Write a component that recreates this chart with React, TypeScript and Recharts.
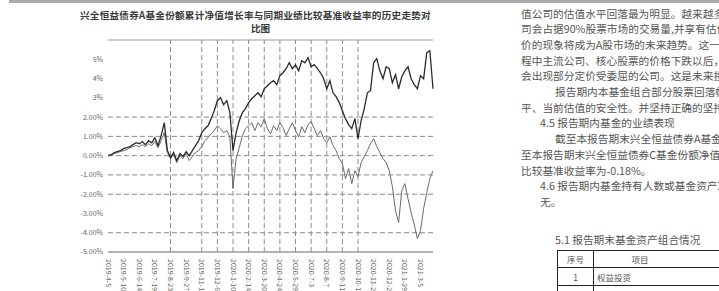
import React from "react";
import { LineChart, Line, XAxis, YAxis, ReferenceLine } from "recharts";

const dates = [
  "2019-4-5", "2019-4-12", "2019-4-19", "2019-4-26", "2019-5-3", "2019-5-10", "2019-5-17", "2019-5-24", "2019-5-31",
  "2019-6-7", "2019-6-14", "2019-6-21", "2019-6-28", "2019-7-5", "2019-7-12", "2019-7-19", "2019-7-26",
  "2019-8-2", "2019-8-9", "2019-8-16", "2019-8-23", "2019-8-30", "2019-9-6", "2019-9-13", "2019-9-20", "2019-9-27",
  "2019-10-4", "2019-10-11", "2019-10-18", "2019-10-25", "2019-11-1", "2019-11-8", "2019-11-15", "2019-11-22", "2019-11-29",
  "2019-12-6", "2019-12-13", "2019-12-20", "2019-12-27",
  "2020-1-3", "2020-1-10", "2020-1-17", "2020-1-24", "2020-1-31", "2020-2-7", "2020-2-14", "2020-2-21", "2020-2-28",
  "2020-3-6", "2020-3-13", "2020-3-20", "2020-3-27", "2020-4-3", "2020-4-10", "2020-4-17", "2020-4-24",
  "2020-5-1", "2020-5-8", "2020-5-15", "2020-5-22", "2020-5-29", "2020-6-5", "2020-6-12", "2020-6-19", "2020-6-26",
  "2020-7-3", "2020-7-10", "2020-7-17", "2020-7-24", "2020-7-31", "2020-8-7", "2020-8-14", "2020-8-21", "2020-8-28",
  "2020-9-4", "2020-9-11", "2020-9-18", "2020-9-25", "2020-10-2", "2020-10-9", "2020-10-16", "2020-10-23", "2020-10-30",
  "2020-11-6", "2020-11-13", "2020-11-20", "2020-11-27", "2020-12-4", "2020-12-11", "2020-12-18", "2020-12-25",
  "2021-1-1", "2021-1-8", "2021-1-15", "2021-1-22", "2021-1-29", "2021-2-5", "2021-2-12", "2021-2-19", "2021-2-26",
  "2021-3-5", "2021-3-12", "2021-3-19", "2021-3-26", "2021-3-31",
];

// 累计净值增长率 (%)
const fundReturn = [
  0, 0.05, 0.16, 0.21, 0.26, 0.36, 0.41, 0.47, 0.57, 0.67, 0.62, 0.73, 0.57, 0.78, 0.67, 0.93, 0.52, 1.04, 1.71, 0.26,
  -0.1, 0.16, -0.26, 0.1, -0.05, 0.21, 0, 0.26, 0.52, 0.78, 1.19, 1.4, 1.55, 1.92, 2.33, 2.85, 3.01, 2.64, 2.85, 2.23,
  0.26, 1.19, 1.81, 2.23, 2.44, 2.75, 2.95, 3.11, 3.26, 3.06, 3.47, 3.63, 3.78, 3.89, 3.68, 4.15, 4.3, 4.51, 4.82, 4.51,
  4.72, 4.4, 4.92, 4.82, 5.08, 4.61, 4.72, 4.51, 4.3, 3.99, 3.47, 3.89, 3.26, 3.06, 2.75, 2.33, 1.92, 1.61, 1.4, 1.92,
  0.88, 1.81, 2.44, 3.26, 3.37, 4.82, 5.03, 4.4, 3.99, 4.61, 4.51, 3.78, 4.2, 3.47, 4.09, 4.4, 4.61, 3.99, 3.68, 3.47,
  4.15, 3.99, 5.34, 5.44, 3.47,
];

// 业绩比较基准收益率 (%)
const benchmarkReturn = [
  0, 0, 0.1, 0.16, 0.21, 0.26, 0.31, 0.41, 0.47, 0.52, 0.47, 0.57, 0.47, 0.62, 0.52, 0.73, 0.41, 0.78, 1.19, 0.16,
  -0.16, 0.05, -0.36, 0, -0.16, 0.1, -0.26, -0.05, 0.16, 0.26, 0.47, 0.78, 0.93, 1.14, 1.3, 1.55, 1.4, 1.19, 1.3, 0.98,
  -1.71, -0.16, 0.41, 1.04, 1.4, 1.55, 1.71, 1.3, 1.71, 1.5, 1.92, 1.4, 1.14, 1.55, 1.3, 1.71, 1.45, 1.04, 1.4, 1.71,
  1.3, 0.98, 1.5, 1.19, 1.61, 1.76, 1.4, 1.04, 1.3, 0.88, 0.67, 0.98, 0.52, 0.26, -0.16, -0.41, -1.19, -0.67, -1.45, -0.78,
  -1.09, -0.36, -0.05, 0.26, 0.62, 0.88, 0.47, 0.16, -0.16, -0.36, -0.78, -1.61, -2.85, -3.47, -1.81, -1.45, -2.23, -2.95, -3.58, -4.3,
  -3.89, -2.75, -1.92, -1.19, -0.78,
];

const yTicks = [5, 4, 3, 2, 1, 0, -1, -2, -3, -4, -5];
const yTickLabels = ["5%", "4%", "3%", "2.00%", "1.00%", "0.00%", "-1.00%", "-2.00%", "-3.00%", "-4.00%", "-5.00%"];
const gridValues = [2, 1, 0, -1, -2, -4];
const gridDates = [
  "2019-8-23", "2019-11-1", "2019-12-6", "2020-1-10", "2020-2-14", "2020-3-20",
  "2020-4-24", "2020-5-29", "2020-7-3", "2020-8-7", "2020-9-11", "2020-10-16",
];

const titleLine1 = "兴全恒益债券A基金份额累计净值增长率与同期业绩比较基准收益率的历史走势对";
const titleLine2 = "比图";

const textLines: { text: string; indent: number }[] = [
  { text: "值公司的估值水平回落最为明显。越来越多的", indent: 0 },
  { text: "司会占据90%股票市场的交易量,并享有估值溢", indent: 0 },
  { text: "价的现象将成为A股市场的未来趋势。这一过", indent: 0 },
  { text: "程中主流公司、核心股票的价格下跌以后，也", indent: 0 },
  { text: "会出现部分定价受委屈的公司。这是未来投资", indent: 0 },
  { text: "报告期内本基金组合部分股票回落幅度", indent: 2 },
  { text: "平、当前估值的安全性。并坚持正确的坚持。", indent: 0 },
  { text: "4.5 报告期内基金的业绩表现", indent: 1 },
  { text: "截至本报告期末兴全恒益债券A基金份额", indent: 2 },
  { text: "至本报告期末兴全恒益债券C基金份额净值增长", indent: 0 },
  { text: "比较基准收益率为-0.18%。", indent: 0 },
  { text: "4.6 报告期内基金持有人数或基金资产净值", indent: 1 },
  { text: "无。", indent: 1 },
];

const data = dates.map((d, i) => ({ date: d, fund: fundReturn[i], bench: benchmarkReturn[i] }));

function DateTick(props: any) {
  const { x, y, payload } = props;
  return (
    <text
      x={x}
      y={y}
      dx={5}
      dy={2.5}
      transform={`rotate(90 ${x} ${y})`}
      fontSize={7}
      fill="#666"
      fontFamily="Noto Sans CJK SC"
    >
      {payload.value}
    </text>
  );
}

const cjk = "'Noto Sans CJK SC', sans-serif";

export default function App() {
  return (
    <div
      style={{
        position: "fixed",
        left: 0,
        top: 0,
        width: 719,
        height: 291,
        background: "#fff",
        overflow: "hidden",
        fontFamily: cjk,
      }}
    >
      <div style={{ position: "absolute", left: 9, top: 0, width: 710, height: 3, background: "#ababab" }} />

      <div
        style={{
          position: "absolute",
          left: 80,
          top: 10,
          fontSize: 9.6,
          letterSpacing: 0.25,
          lineHeight: "11px",
          color: "#3a3a3a",
          fontWeight: 700,
          whiteSpace: "nowrap",
        }}
      >
        {titleLine1}
      </div>
      <div
        style={{
          position: "absolute",
          left: 251,
          top: 23,
          fontSize: 9.6,
          lineHeight: "11px",
          color: "#3a3a3a",
          fontWeight: 700,
          whiteSpace: "nowrap",
        }}
      >
        {titleLine2}
      </div>

      <div style={{ position: "absolute", left: 0, top: 0 }}>
        <LineChart width={440} height={291} data={data} margin={{ top: 40, right: 7, bottom: 0, left: 0 }}>
          <ReferenceLine y={6} stroke="#999" strokeWidth={1.2} />
          {gridValues.map((v) => (
            <ReferenceLine key={"h" + v} y={v} stroke="#8a8a8a" strokeDasharray="5 3" />
          ))}
          {gridDates.map((d) => (
            <ReferenceLine key={"v" + d} x={d} stroke="#8a8a8a" strokeDasharray="5 3" />
          ))}
          <XAxis
            dataKey="date"
            interval={4}
            height={39}
            tick={<DateTick />}
            tickLine={false}
            tickSize={0}
            axisLine={{ stroke: "#999", strokeWidth: 1.6 }}
          />
          <YAxis
            domain={[-5, 6]}
            ticks={yTicks}
            width={108}
            axisLine={false}
            tickLine={false}
            tickSize={0}
            tickMargin={5}
            tick={{ fontSize: 7, fill: "#666", fontFamily: cjk }}
            tickFormatter={(v: number) => yTickLabels[yTicks.indexOf(v)]}
          />
          <Line
            type="linear"
            dataKey="bench"
            stroke="#6a6a6a"
            strokeWidth={1}
            dot={false}
            isAnimationActive={false}
          />
          <Line
            type="linear"
            dataKey="fund"
            stroke="#2b2b2b"
            strokeWidth={1.3}
            dot={false}
            isAnimationActive={false}
          />
        </LineChart>
      </div>

      <div style={{ position: "absolute", left: 521, top: 0, width: 198, height: 291, overflow: "hidden", color: "#555" }}>
        {textLines.map((l, i) => (
          <div
            key={i}
            style={{
              position: "absolute",
              left: l.indent === 0 ? 0 : l.indent === 1 ? 19 : 34,
              top: 5.5 + i * 15.7,
              fontSize: 10.7,
              lineHeight: "15px",
              whiteSpace: "nowrap",
            }}
          >
            {l.text}
          </div>
        ))}
        <div style={{ position: "absolute", left: 34, top: 232, fontSize: 10.7, lineHeight: "15px", whiteSpace: "nowrap" }}>
          5.1 报告期末基金资产组合情况
        </div>
        <table
          style={{
            position: "absolute",
            left: 36,
            top: 250,
            width: 260,
            borderCollapse: "collapse",
            fontSize: 8.5,
            color: "#555",
          }}
        >
          <tbody>
            <tr style={{ height: 17 }}>
              <td style={{ border: "1px solid #222", width: 35, textAlign: "center", padding: 0 }}>序号</td>
              <td style={{ border: "1px solid #222", textAlign: "center", padding: 0, paddingRight: 130 }}>项目</td>
            </tr>
            <tr style={{ height: 18 }}>
              <td style={{ border: "1px solid #222", textAlign: "center", padding: 0 }}>1</td>
              <td style={{ border: "1px solid #222", padding: "0 3px" }}>权益投资</td>
            </tr>
            <tr style={{ height: 18 }}>
              <td style={{ border: "1px solid #222", textAlign: "center", padding: 0 }}></td>
              <td style={{ border: "1px solid #222", padding: "0 3px" }}>其中：股票</td>
            </tr>
          </tbody>
        </table>
      </div>
    </div>
  );
}
